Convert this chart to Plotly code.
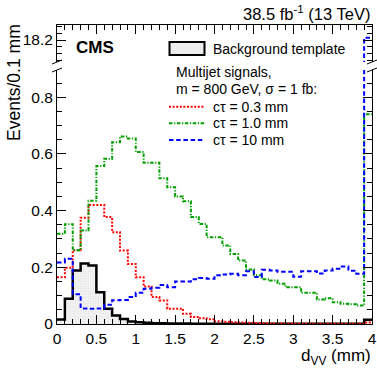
import numpy as np
import plotly.graph_objects as go

# ---------------- data (Events / 0.1 mm, bins of d_VV from 0 to 4 mm) ----------------
bin_edges = np.round(np.linspace(0.0, 4.0, 41), 2)

background = [0.016, 0.089, 0.189, 0.213, 0.206, 0.112, 0.054, 0.030, 0.018, 0.009,
              0.006, 0.004, 0.003, 0.003, 0.002, 0.002, 0.002, 0.001, 0.001, 0.001,
              0.001, 0.001, 0.001, 0.001, 0.001, 0.001, 0.001, 0.001, 0.001, 0.001,
              0.001, 0.001, 0.001, 0.001, 0.001, 0.001, 0.001, 0.001, 0.001, 0.015]

ctau_03 = [0.165, 0.198, 0.260, 0.375, 0.420, 0.420, 0.377, 0.324, 0.259, 0.212,
           0.165, 0.132, 0.095, 0.083, 0.054, 0.054, 0.036, 0.025, 0.020, 0.017,
           0.010, 0.008, 0.006, 0.005, 0.004, 0.003, 0.003, 0.002, 0.002, 0.002,
           0.001, 0.001, 0.001, 0.001, 0.001, 0.001, 0.001, 0.001, 0.001, 0.005]

ctau_10 = [0.318, 0.352, 0.260, 0.330, 0.435, 0.557, 0.583, 0.641, 0.661, 0.654,
           0.607, 0.569, 0.569, 0.514, 0.482, 0.450, 0.433, 0.377, 0.353, 0.306,
           0.306, 0.277, 0.247, 0.224, 0.192, 0.172, 0.158, 0.153, 0.142, 0.130,
           0.130, 0.110, 0.110, 0.086, 0.091, 0.077, 0.071, 0.070, 0.065, 0.740]

ctau_100 = [0.217, 0.230, 0.105, 0.055, 0.054, 0.055, 0.068, 0.084, 0.085, 0.095,
            0.110, 0.124, 0.128, 0.138, 0.130, 0.150, 0.150, 0.158, 0.162, 0.160,
            0.172, 0.175, 0.177, 0.172, 0.186, 0.166, 0.191, 0.189, 0.184, 0.184,
            0.167, 0.186, 0.186, 0.178, 0.189, 0.195, 0.203, 0.188, 0.177, 18.21]

x_ticks = [0, 0.5, 1, 1.5, 2, 2.5, 3, 3.5, 4]
x_tick_labels = ["0", "0.5", "1", "1.5", "2", "2.5", "3", "3.5", "4"]
y_ticks = [0, 0.2, 0.4, 0.6, 0.8]
y_tick_labels = ["0", "0.2", "0.4", "0.6", "0.8"]
y2_ticks = [18.2]
y2_tick_labels = ["18.2"]

legend_labels = ["Background template", "Multijet signals,",
                 "m = 800 GeV, σ = 1 fb:", "cτ = 0.3 mm", "cτ = 1.0 mm", "cτ = 10 mm"]

# ---------------- layout geometry (pixels) ----------------
W, H = 377, 370
L, R, T, B = 57, 5, 25, 46
PX0, PX1 = L, W - R          # plot area x
PY0, PY1 = T, H - B          # plot area y (top, bottom)
MAIN_TOP = 70
TOP_BOTTOM = 62

def fx(px):
    return (px - PX0) / (PX1 - PX0)

def fy(py):
    return (PY1 - py) / (PY1 - PY0)

FONT = "Liberation Sans, Arial, Helvetica, sans-serif"

def step(vals):
    return list(bin_edges), list(vals) + [vals[-1]]

RED = "#ff0000"
GREEN = "#00a000"
BLUE = "#0000ff"
FILL_BG = "#f3f3f3"

fig = go.Figure()

bx, by = step(background)
fig.add_trace(go.Scatter(x=bx, y=by, mode="lines", line=dict(color="black", width=2.5, shape="hv"),
                         fill="tozeroy", fillcolor=FILL_BG,
                         fillpattern=dict(shape=".", fgcolor="#c4c4c4", bgcolor=FILL_BG, size=2.5, solidity=0.2),
                         showlegend=False, xaxis="x", yaxis="y"))

styles = [(ctau_03, RED, "2px,1.6px"), (ctau_10, GREEN, "3.5px,1.6px,1.2px,1.6px"), (ctau_100, BLUE, "4.5px,2.7px")]
for vals, col, dash in styles:
    sx, sy = step(vals)
    fig.add_trace(go.Scatter(x=sx, y=sy, mode="lines", line=dict(color=col, width=2, shape="hv", dash=dash),
                             showlegend=False, xaxis="x", yaxis="y"))

# top (broken-axis) panel: only the overflow of cτ = 10 mm reaches it
sx, sy = step(ctau_100)
fig.add_trace(go.Scatter(x=sx, y=sy, mode="lines", line=dict(color=BLUE, width=2, shape="hv", dash="4.5px,2.7px"),
                         showlegend=False, xaxis="x2", yaxis="y2"))

main_dom = [0, fy(MAIN_TOP)]
top_dom = [fy(TOP_BOTTOM), 1]
main_top_val = (PY1 - MAIN_TOP) / 283.5
y2_lo = 18.2 - (TOP_BOTTOM - 40) * 0.0043
y2_hi = 18.2 + (40 - PY0) * 0.0043

tickfont = dict(family=FONT, size=15.5, color="black")
axcommon = dict(showgrid=False, zeroline=False, linecolor="black", linewidth=1, ticks="inside",
                tickcolor="black", tickwidth=1)

fig.update_layout(
    width=W, height=H, margin=dict(l=L, r=R, t=T, b=B, autoexpand=False),
    paper_bgcolor="white", plot_bgcolor="white", showlegend=False,
    font=dict(family=FONT, color="black"),
    xaxis=dict(domain=[0, 1], anchor="y", range=[0, 4], tickvals=x_ticks, ticktext=x_tick_labels,
               ticklen=9, showline=True, mirror=False, tickfont=tickfont,
               minor=dict(dtick=0.1, ticks="inside", ticklen=5, tickcolor="black", showgrid=False),
               **axcommon),
    xaxis2=dict(domain=[0, 1], anchor="y2", matches="x", range=[0, 4], side="top", tickvals=x_ticks,
                showticklabels=False, ticklen=9, showline=True, mirror=False,
                minor=dict(dtick=0.1, ticks="inside", ticklen=5, tickcolor="black", showgrid=False),
                **axcommon),
    yaxis=dict(domain=main_dom, anchor="x", range=[0, main_top_val], tickvals=y_ticks, ticktext=y_tick_labels,
               ticklen=9, showline=True, mirror="ticks", tickfont=tickfont,
               minor=dict(dtick=0.05, ticks="inside", ticklen=5, tickcolor="black", showgrid=False),
               **axcommon),
    yaxis2=dict(domain=top_dom, anchor="x2", range=[y2_lo, y2_hi], tickvals=y2_ticks, ticktext=y2_tick_labels,
                ticklen=9, showline=True, mirror="ticks", tickfont=tickfont,
                minor=dict(tick0=18.2, dtick=0.03, ticks="inside", ticklen=5, tickcolor="black", showgrid=False),
                **axcommon),
)

shapes = []
for xpx in (PX0, PX1):
    for ypx in (TOP_BOTTOM, MAIN_TOP):
        shapes.append(dict(type="line", xref="paper", yref="paper",
                           x0=fx(xpx - 5), y0=fy(ypx + 2), x1=fx(xpx + 5), y1=fy(ypx - 2),
                           line=dict(color="black", width=1)))
shapes.append(dict(type="rect", xref="paper", yref="paper", x0=fx(169.5), x1=fx(204.5), y0=fy(55), y1=fy(42),
                   line=dict(color="black", width=2), fillcolor="#ececec"))
for ypx, col, dash in [(106.7, RED, "2px,1.6px"), (123.3, GREEN, "3.5px,1.6px,1.2px,1.6px"), (140, BLUE, "4.5px,2.7px")]:
    shapes.append(dict(type="line", xref="paper", yref="paper", x0=fx(169), x1=fx(205), y0=fy(ypx), y1=fy(ypx),
                       line=dict(color=col, width=2, dash=dash)))
fig.update_layout(shapes=shapes)

ann = []
def text(s, xpx, ypx, size, xanchor="left", yanchor="middle", bold=False, angle=0):
    ann.append(dict(text=("<b>%s</b>" % s) if bold else s, xref="paper", yref="paper", x=fx(xpx), y=fy(ypx),
                    xanchor=xanchor, yanchor=yanchor, showarrow=False, textangle=angle,
                    font=dict(family=FONT, size=size, color="black")))

text("38.5 fb<sup>-1</sup> (13 TeV)", 372, 13, 16.5, xanchor="right")
text("CMS", 74, 48, 17, bold=True)
text(legend_labels[0], 211, 49, 14)
text(legend_labels[1], 174, 72, 14)
text(legend_labels[2], 174, 89.5, 14)
text(legend_labels[3], 211, 106.7, 14)
text(legend_labels[4], 211, 123.3, 14)
text(legend_labels[5], 211, 140, 14)
text("d<sub>VV</sub> (mm)", 373, 356.5, 17, xanchor="right")
text("Events/0.1 mm", 13.5, 22, 17.5, yanchor="top", angle=-90, xanchor="center")
fig.update_layout(annotations=ann)

fig.write_html("out.html", config={"displayModeBar": False},
               post_script="document.body.style.margin='0px';document.body.style.padding='0px';")
